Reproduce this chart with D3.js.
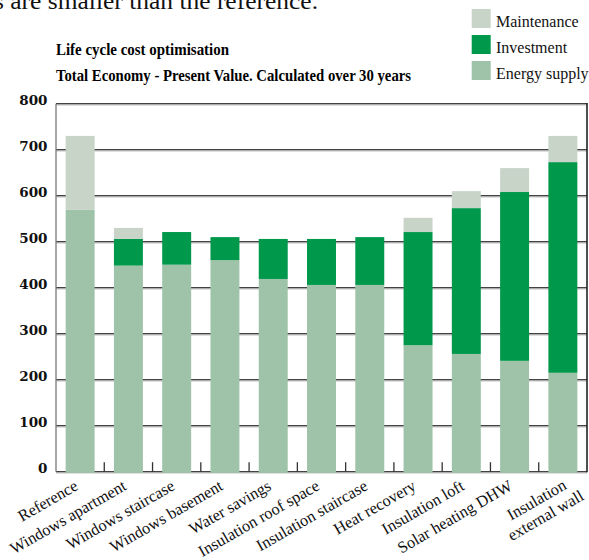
<!DOCTYPE html>
<html>
<head>
<meta charset="utf-8">
<script src="https://cdn.jsdelivr.net/npm/d3@7"></script>
<style>
  html, body { margin: 0; padding: 0; background: #fff; }
  svg { display: block; }
</style>
</head>
<body>
<svg id="chart" width="589" height="560"></svg>
<script>
// ---- data ----
const categories = [
  "Reference", "Windows apartment", "Windows staircase", "Windows basement",
  "Water savings", "Insulation roof space", "Insulation staircase",
  "Heat recovery", "Insulation loft", "Solar heating DHW", "Insulation\nexternal wall"
];
const energySupply = [570, 448, 450, 460, 419, 406, 406, 275, 256, 241, 215];
const investment   = [0,   58,  71,  50,  87, 100, 104, 246, 317, 367, 458];
const maintenance  = [160, 24,   0,   0,   0,   0,   0,  31,  37,  52,  57];
const yTicks = [0, 100, 200, 300, 400, 500, 600, 700, 800];
const seriesNames = ["Energy supply", "Investment", "Maintenance"];
const legendOrder = ["Maintenance", "Investment", "Energy supply"];
const titleLines = ["Life cycle cost optimisation", "Total Economy - Present Value. Calculated over 30 years"];
const headerText = "s are smaller than the reference.";

const colors = {
  "Maintenance": "#c9d4c9",
  "Investment": "#00984b",
  "Energy supply": "#9fc3a8"
};

// ---- layout ----
const svg = d3.select("#chart");
const pLeft = 56, pRight = 587, pTop = 103.7, pBottom = 471.7;

const x = d3.scaleBand().domain(categories).range([pLeft, pRight]).padding(0);
const y = d3.scaleLinear().domain([0, 800]).range([pBottom, pTop]);

const rows = categories.map((c, i) => ({
  cat: c,
  "Energy supply": energySupply[i],
  "Investment": investment[i],
  "Maintenance": maintenance[i]
}));
const stacked = d3.stack().keys(seriesNames)(rows);

// header fragment (cropped at top, as in the source page)
svg.append("text")
  .attr("x", -6).attr("y", 9)
  .attr("font-family", "Liberation Serif").attr("font-size", 24)
  .attr("textLength", 324).attr("lengthAdjust", "spacingAndGlyphs")
  .attr("fill", "#111")
  .text(headerText);

// titles
svg.append("text").attr("x", 56).attr("y", 54.5)
  .attr("font-family", "Liberation Serif").attr("font-weight", "bold").attr("font-size", 16)
  .attr("textLength", 173).attr("lengthAdjust", "spacingAndGlyphs")
  .text(titleLines[0]);
svg.append("text").attr("x", 56).attr("y", 80.5)
  .attr("font-family", "Liberation Serif").attr("font-weight", "bold").attr("font-size", 16)
  .attr("textLength", 355).attr("lengthAdjust", "spacingAndGlyphs")
  .text(titleLines[1]);

// legend
const lg = svg.append("g");
legendOrder.forEach((name, i) => {
  lg.append("rect").attr("x", 471.7).attr("y", 9 + i * 26)
    .attr("width", 19).attr("height", 19).attr("fill", colors[name]);
  lg.append("text").attr("x", 496).attr("y", 26.5 + i * 26)
    .attr("font-family", "Liberation Serif").attr("font-size", 16)
    .attr("fill", "#111")
    .text(name);
});

// gridlines (dark line + light shadow)
const grid = svg.append("g");
yTicks.forEach(t => {
  grid.append("line").attr("x1", pLeft).attr("x2", pRight)
    .attr("y1", y(t) + 1.2).attr("y2", y(t) + 1.2)
    .attr("stroke", "#b0b0b0").attr("stroke-width", 1);
  grid.append("line").attr("x1", pLeft).attr("x2", pRight)
    .attr("y1", y(t)).attr("y2", y(t))
    .attr("stroke", "#444").attr("stroke-width", 1.3);
});

// left axis line
svg.append("line").attr("x1", pLeft).attr("x2", pLeft)
  .attr("y1", pTop).attr("y2", pBottom)
  .attr("stroke", "#777").attr("stroke-width", 1.3);
// right border
svg.append("line").attr("x1", pRight).attr("x2", pRight)
  .attr("y1", pTop - 0.6).attr("y2", pBottom + 0.6)
  .attr("stroke", "#222").attr("stroke-width", 1.6);

// category ticks at band boundaries (pointing up)
const bounds = categories.slice(1).map(c => x(c));
svg.append("g").selectAll("line").data(bounds).join("line")
  .attr("x1", d => d).attr("x2", d => d)
  .attr("y1", pBottom - 9.5).attr("y2", pBottom)
  .attr("stroke", "#333").attr("stroke-width", 1.3);

// bars
const bw = x.bandwidth();
svg.append("g").selectAll("g").data(stacked).join("g")
  .attr("fill", d => colors[d.key])
  .selectAll("rect").data(d => d).join("rect")
  .attr("x", d => x(d.data.cat) + bw * 0.2)
  .attr("width", bw * 0.6)
  .attr("y", d => y(d[1]))
  .attr("height", d => Math.max(0, y(d[0]) - y(d[1]) + (d[0] === 0 ? 1.2 : 0)));

// y labels
svg.append("g").selectAll("text").data(yTicks).join("text")
  .attr("x", 47.5).attr("y", d => y(d) + 1)
  .attr("text-anchor", "end")
  .attr("font-family", "DejaVu Serif").attr("font-weight", "bold").attr("font-size", 13.5)
  .attr("fill", "#111")
  .text(d => d);

// x labels
const angle = -30;
const xfs = 16.3;
const xl = svg.append("g");
categories.forEach(c => {
  const lines = c.split("\n");
  const cx = x(c) + bw / 2;
  if (lines.length === 1) {
    xl.append("text")
      .attr("transform", `translate(${cx - 1},${489}) rotate(${angle})`)
      .attr("text-anchor", "end")
      .attr("font-family", "Liberation Serif").attr("font-size", xfs)
      .attr("fill", "#111")
      .text(c);
  } else {
    const g = xl.append("g").attr("transform", `translate(${cx + 22},${499}) rotate(${angle})`);
    const texts = lines.map(l => g.append("text")
      .attr("font-family", "Liberation Serif").attr("font-size", xfs)
      .attr("fill", "#111").attr("text-anchor", "end").text(l));
    const widths = texts.map(t => t.node().getComputedTextLength());
    const maxW = d3.max(widths);
    const n = lines.length;
    texts.forEach((t, i) => {
      t.attr("x", -(maxW - widths[i]) / 2).attr("y", -(n - 1 - i) * 18);
    });
  }
});
</script>
</body>
</html>
